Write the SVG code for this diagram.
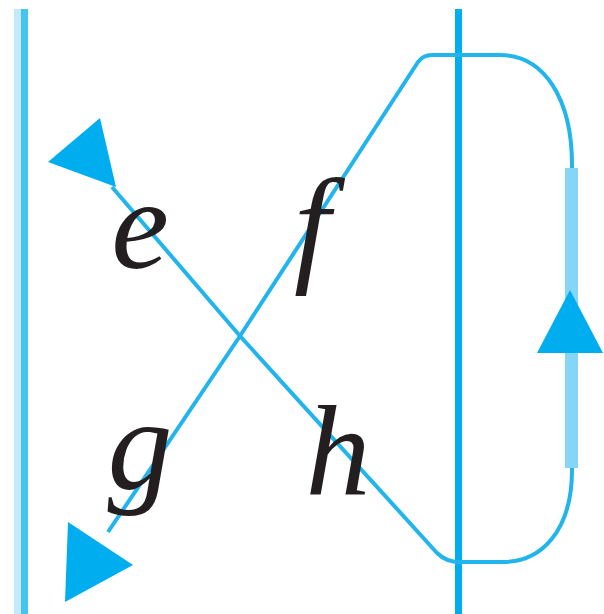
<svg xmlns="http://www.w3.org/2000/svg" width="604" height="614" viewBox="0 0 604 614">
<style>
.ln{fill:none;stroke:#22b4ec;stroke-width:4;stroke-linejoin:round}
.ah{fill:#00aeef}
.lb{font-family:"Liberation Serif",serif;font-style:italic;font-size:130px;fill:#231f20;text-anchor:middle}
</style>
<rect width="604" height="614" fill="#ffffff"/>
<g id="walls">
<rect x="14" y="9" width="7" height="605" fill="#c2eafb"/>
<rect x="21" y="9" width="7" height="605" fill="#45c3f3"/>
<rect x="455" y="9" width="7" height="605" fill="#00aeef"/>
</g>
<g id="connectors">
<path class="ln" d="M112,187 L240,336 L437,553 Q446,562 460,562 L503,562 C542,562 572,530 572,470 L572,165"/>
<path class="ln" d="M108,532 L240,336 L418,62 Q423,55 432,55 L500,55 C545,55 572,100 572,165"/>
<line x1="571.5" y1="168" x2="571.5" y2="468" stroke="#85d5f7" stroke-width="13"/>
<polygon class="ah" points="48,162 100,118 116,187"/>
<polygon class="ah" points="68,522 133,565 65,602"/>
<polygon class="ah" points="570,290 537,353 603,353"/>
</g>
<g id="label-e"><text class="lb" x="140" y="268">e</text></g>
<g id="label-f"><text class="lb" x="312" y="268">f</text></g>
<g id="label-g"><text class="lb" x="140" y="488">g</text></g>
<g id="label-h"><text class="lb" x="338" y="495">h</text></g>
</svg>
